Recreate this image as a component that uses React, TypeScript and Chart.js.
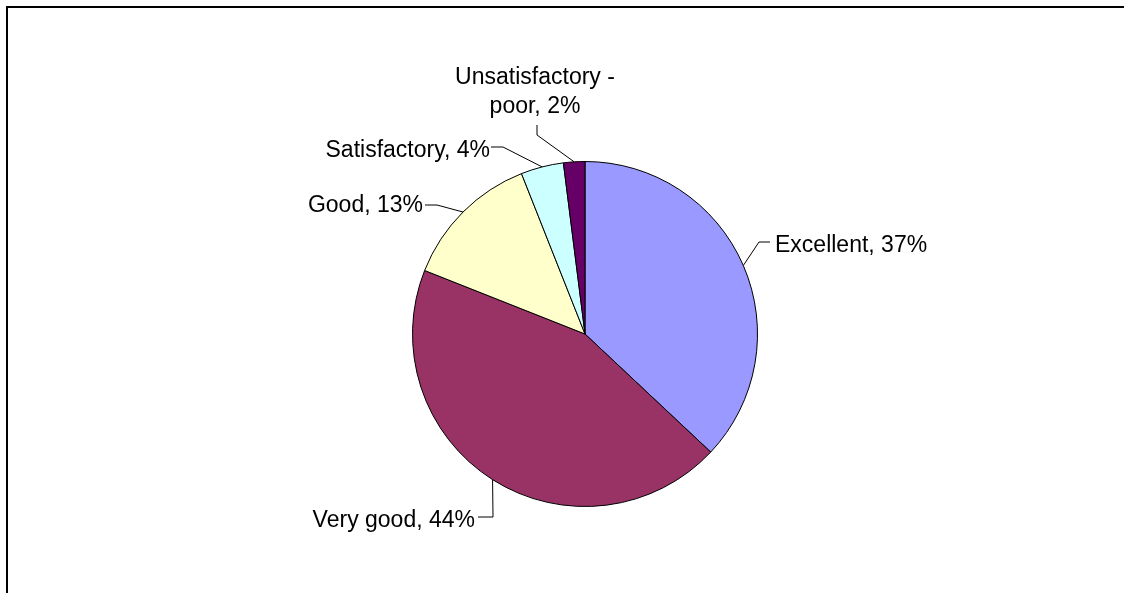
import React, { useEffect, useRef } from "react";
import { Chart, registerables } from "chart.js";

Chart.register(...registerables);

const categories = ["Excellent", "Very good", "Good", "Satisfactory", "Unsatisfactory - poor"];
const percentages = [37, 44, 13, 4, 2];
const sliceColors = ["#9999FF", "#993366", "#FFFFCC", "#CCFFFF", "#660066"];

const FONT = '23px "Liberation Sans", Arial, sans-serif';

// label layout relative to pie centre: elbow, end of leader, text anchor/baseline
const labelLayout = [
  { elbow: [174, -92], end: [185, -92], tx: 190, ty: -82, align: "left", wrap: 0 },
  { elbow: [-92, 183], end: [-107, 183], tx: -110, ty: 193, align: "right", wrap: 0 },
  { elbow: [-148, -129], end: [-160, -129], tx: -162, ty: -122, align: "right", wrap: 0 },
  { elbow: [-82, -187], end: [-94, -187], tx: -95, ty: -177, align: "right", wrap: 0 },
  { elbow: [-48, -199], end: [-48, -209], tx: -50, ty: -250, align: "center", wrap: 170, lineH: 29 },
];

function wrapText(ctx: CanvasRenderingContext2D, text: string, maxW: number): string[] {
  if (!maxW) return [text];
  const words = text.split(" ");
  const lines: string[] = [];
  let cur = "";
  for (const w of words) {
    const test = cur ? cur + " " + w : w;
    if (ctx.measureText(test).width > maxW && cur) {
      lines.push(cur);
      cur = w;
    } else cur = test;
  }
  if (cur) lines.push(cur);
  return lines;
}

const labelPlugin = {
  id: "excelLabels",
  afterDraw(chart: any) {
    const ctx: CanvasRenderingContext2D = chart.ctx;
    ctx.save();
    // outer chart frame (only left and top edges are visible)
    ctx.strokeStyle = "#000";
    ctx.lineWidth = 2;
    ctx.beginPath();
    ctx.moveTo(7, chart.height + 5);
    ctx.lineTo(7, 7);
    ctx.lineTo(chart.width + 5, 7);
    ctx.stroke();

    const meta = chart.getDatasetMeta(0);
    ctx.font = FONT;
    ctx.fillStyle = "#000";
    ctx.textBaseline = "alphabetic";
    meta.data.forEach((arc: any, i: number) => {
      const p = arc.getProps(["x", "y", "startAngle", "endAngle", "outerRadius"], true);
      const mid = (p.startAngle + p.endAngle) / 2;
      const sx = p.x + Math.cos(mid) * p.outerRadius;
      const sy = p.y + Math.sin(mid) * p.outerRadius;
      const L = labelLayout[i];
      ctx.strokeStyle = "#000";
      ctx.lineWidth = 1;
      ctx.beginPath();
      ctx.moveTo(sx, sy);
      ctx.lineTo(p.x + L.elbow[0], p.y + L.elbow[1]);
      ctx.lineTo(p.x + L.end[0], p.y + L.end[1]);
      ctx.stroke();
      const text = `${categories[i]}, ${percentages[i]}%`;
      ctx.textAlign = L.align as CanvasTextAlign;
      const lines = wrapText(ctx, text, L.wrap);
      lines.forEach((ln, k) => {
        ctx.fillText(ln, p.x + L.tx, p.y + L.ty + k * (L.lineH || 0));
      });
    });
    ctx.restore();
  },
};

export default function App() {
  const ref = useRef<HTMLCanvasElement>(null);
  useEffect(() => {
    if (!ref.current) return;
    const chart = new Chart(ref.current, {
      type: "pie",
      data: {
        labels: categories,
        datasets: [
          {
            data: percentages,
            backgroundColor: sliceColors,
            borderColor: "#000",
            borderWidth: 1,
            hoverOffset: 0,
          },
        ],
      },
      options: {
        responsive: false,
        animation: false,
        layout: { padding: { left: 412, right: 366, top: 161, bottom: 86 } },
        plugins: {
          legend: { display: false },
          tooltip: { enabled: false },
        },
        events: [],
      },
      plugins: [labelPlugin],
    });
    return () => chart.destroy();
  }, []);
  return (
    <div style={{ position: "absolute", left: 0, top: 0, width: 1124, height: 593, background: "#fff", overflow: "hidden" }}>
      <canvas ref={ref} width={1124} height={593} style={{ display: "block" }} />
    </div>
  );
}
